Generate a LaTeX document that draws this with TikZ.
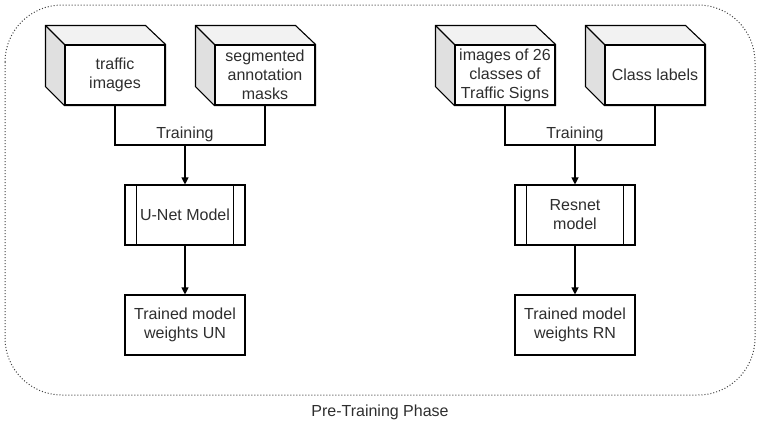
\documentclass[tikz,border=0pt]{standalone}
\usepackage{fontspec}
\setmainfont{Liberation Sans}
\usetikzlibrary{arrows.meta}
\begin{document}
\begin{tikzpicture}[x=1pt,y=-1pt,
  every node/.style={font=\fontsize{16}{19}\selectfont, text=black!82},
  front/.style={draw, line width=1.1pt, fill=white, minimum width=100pt, minimum height=60pt, inner sep=0pt, align=center},
  proc/.style={draw, line width=1.1pt, fill=white, minimum width=120pt, minimum height=60pt, inner sep=0pt, align=center},
  wire/.style={line width=1.1pt},
  arr/.style={wire,-{Triangle[length=7pt,width=7pt]}},
  topface/.style={fill=black!5},
  sideface/.style={fill=black!12}]
\useasboundingbox (0,0) rectangle (761,431);
% outer dotted frame
\draw[dotted, line width=1pt, black!75, rounded corners=57pt] (5,5) rectangle (755,395);

% cubes (front faces)
\node[front] (c1) at (115,75) {traffic\\images};
\node[front] (c2) at (265,75) {segmented\\annotation\\masks};
\node[front] (c3) at (505,75) {images of 26\\classes of\\Traffic Signs};
\node[front] (c4) at (655,75) {Class labels};
\foreach \n in {c1,c2,c3,c4}{
  \fill[topface] (\n.north west) -- ++(-19,-19) -- ++(100,0) -- (\n.north east) -- cycle;
  \fill[sideface] (\n.north west) -- ++(-19,-19) -- ++(0,60) -- (\n.south west) -- cycle;
  \draw[line width=1.1pt, line join=miter] (\n.north west) ++(-19,-19) -- ++(100,0) -- (\n.north east) -- (\n.south east) -- (\n.south west) -- ++(-19,-19) -- cycle;
  \draw[line width=1.1pt] (\n.north west) -- ++(-19,-19);
  \draw[line width=1.1pt] (\n.north west) rectangle (\n.south east);
}

% process boxes
\node[proc] (u) at (185,215) {U-Net Model};
\node[proc] (r) at (575,215) {Resnet\\model};
\foreach \n in {u,r}{
  \draw[line width=1.1pt] ([xshift=12pt]\n.north west) -- ([xshift=12pt]\n.south west);
  \draw[line width=1.1pt] ([xshift=-12pt]\n.north east) -- ([xshift=-12pt]\n.south east);
}

% result boxes
\node[proc] (wu) at (185,325) {Trained model\\weights UN};
\node[proc] (wr) at (575,325) {Trained model\\weights RN};

% connectors
\coordinate (j1) at (185,145);
\coordinate (j2) at (575,145);
\draw[wire] (c1.south) |- (j1) -| (c2.south);
\draw[wire] (c3.south) |- (j2) -| (c4.south);
\node (t1) at (185,134) {Training};
\node (t2) at (575,134) {Training};
\draw[arr] (j1) -- (u.north);
\draw[arr] (j2) -- (r.north);
\draw[arr] (u.south) -- (wu.north);
\draw[arr] (r.south) -- (wr.north);

\node (title) at (380,412) {Pre-Training Phase};
\end{tikzpicture}
\end{document}
